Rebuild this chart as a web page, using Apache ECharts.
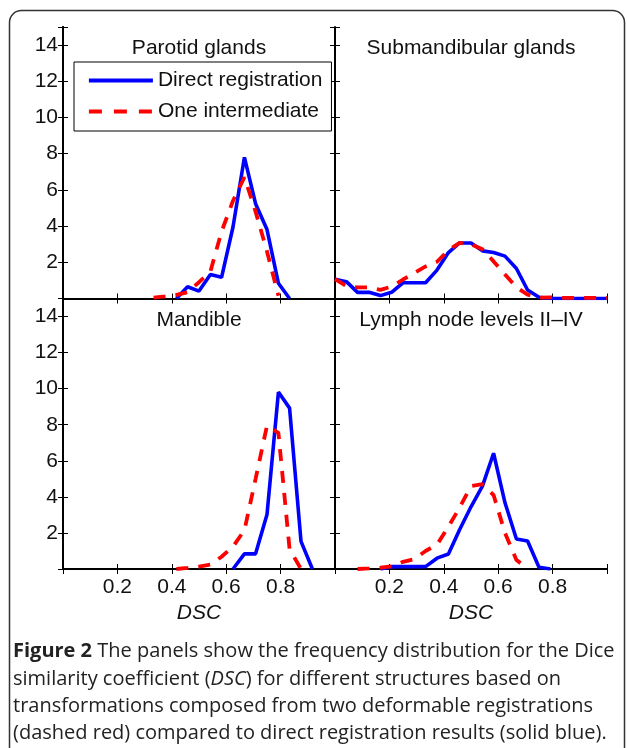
<!DOCTYPE html>
<html><head><meta charset="utf-8">
<script src="https://cdn.jsdelivr.net/npm/echarts@6/dist/echarts.min.js"></script>
<style>html,body{margin:0;padding:0;background:#fff}#c{width:627px;height:748px}</style>
</head><body><div id="c"></div>
<script>
// DSC bin centres (x values)
const dsc = [0.000, 0.042, 0.083, 0.125, 0.167, 0.208, 0.250, 0.292, 0.333, 0.375, 0.417, 0.458, 0.500,
             0.542, 0.583, 0.625, 0.667, 0.708, 0.750, 0.792, 0.833, 0.875, 0.917, 0.958, 1.000];
const panelTitles = ['Parotid glands', 'Submandibular glands', 'Mandible', 'Lymph node levels II\u2013IV'];
const seriesNames = ['Direct registration', 'One intermediate'];
const xTickLabels = [0.2, 0.4, 0.6, 0.8];
const yTickLabels = [2, 4, 6, 8, 10, 12, 14];
const n = null;
// frequency (density) values per bin
const parotidDirect = [n,n,n,n,n,n,n,n,n,n, 0, 0.65, 0.41, 1.33, 1.17, 3.95, 7.8, 5.24, 3.81, 0.84, 0, n,n,n,n];
const parotidOne    = [n,n,n,n,n,n,n,n, 0.05, 0.12, 0.2, 0.35, 0.9, 1.5, 3.7, 5.4, 6.7, 4.8, 2.6, 0.15, n, n,n,n,n];
const submandDirect = [1.07, 0.93, 0.34, 0.34, 0.16, 0.34, 0.87, 0.87, 0.87, 1.57, 2.54, 3.07, 3.07, 2.63, 2.54, 2.34, 1.66, 0.47, 0.07, 0, 0, 0, 0, 0, 0];
const submandOne    = [1.07, 0.69, 0.61, 0.61, 0.48, 0.66, 1.05, 1.42, 1.77, 2.03, 2.67, 3.07, 3.0, 2.72, 2.05, 1.33, 0.62, 0.21, 0.05, 0.06, 0.04, 0.04, 0.04, 0.04, 0.04];
const mandibleDirect = [n,n,n,n,n,n,n,n,n,n,n,n,n,n,n, 0, 0.84, 0.84, 3.02, 9.81, 8.92, 1.53, 0, n,n];
const mandibleOne    = [n,n,n,n,n,n,n,n,n,n, 0, 0.06, 0.13, 0.24, 0.68, 1.25, 2.15, 5.0, 7.95, 7.55, 1.1, 0, n,n,n];
const lymphDirect = [n,n,n,n, 0, 0.13, 0.13, 0.13, 0.13, 0.6, 0.83, 2.18, 3.45, 4.6, 6.42, 3.67, 1.66, 1.55, 0.1, 0, n,n,n,n,n];
const lymphOne    = [n,n, 0, 0.03, 0.07, 0.15, 0.4, 0.55, 1.0, 1.35, 2.35, 3.4, 4.6, 4.7, 4.1, 2.0, 0.5, 0.03, n, n,n,n,n,n,n];
const panelData = [[parotidDirect, parotidOne], [submandDirect, submandOne], [mandibleDirect, mandibleOne], [lymphDirect, lymphOne]];
const captionLines = [
  '{b|Figure 2} The panels show the frequency distribution for the Dice',
  'similarity coefficient ({i|DSC}) for different structures based on',
  'transformations composed from two deformable registrations',
  '(dashed red) compared to direct registration results (solid blue).'
];

const FONT = 'Liberation Sans';
const FS = 21;
const CAPFONT = 'Open Sans';
const CAPFS = 20;
const gridLeft = [63, 335], gridTop = [27, 298.5], gridW = 272, gridH = [271.5, 270.5];
const styles = [
  {color: '#0000ff', width: 3.6, type: 'solid'},
  {color: '#ff0000', width: 3.8, type: [12, 10]}
];

const grid = [], xAxis = [], yAxis = [], series = [], titles = [];
const lineCol = '#000';
for (let i = 0; i < 4; i++) {
  const col = i % 2, row = Math.floor(i / 2);
  grid.push({left: gridLeft[col], top: gridTop[row], width: gridW, height: gridH[row]});
  const xl = (v) => (xTickLabels.some(t => Math.abs(t - v) < 1e-6) ? v.toFixed(1) : '');
  const yl = (v) => (yTickLabels.indexOf(Math.round(v)) >= 0 && Math.abs(v - Math.round(v)) < 1e-6 ? String(Math.round(v)) : '');
  const axisLine = (show) => ({show: show, lineStyle: {color: lineCol, width: 2}});
  const tick = {show: true, inside: true, length: 5, lineStyle: {color: '#000', width: 1}};
  xAxis.push({gridIndex: i, type: 'value', position: 'bottom', min: 0, max: 1, interval: 0.2,
    axisLine: axisLine(true), axisTick: tick, splitLine: {show: false},
    axisLabel: {show: row === 1, formatter: xl, fontSize: FS, fontFamily: FONT, color: '#111', margin: 8},
    name: row === 1 ? 'DSC' : '', nameLocation: 'middle', nameGap: 34,
    nameTextStyle: {fontSize: FS, fontFamily: FONT, fontStyle: 'italic', color: '#111'}});
  xAxis.push({gridIndex: i, type: 'value', position: 'top', min: 0, max: 1, interval: 0.2,
    axisLine: axisLine(true), axisTick: tick, splitLine: {show: false}, axisLabel: {show: false}});
  yAxis.push({gridIndex: i, type: 'value', position: 'left', min: 0, max: 15, interval: 2,
    axisLine: axisLine(true), axisTick: tick, splitLine: {show: false},
    axisLabel: {show: col === 0, formatter: yl, fontSize: FS, fontFamily: FONT, color: '#111', margin: 5}});
  yAxis.push({gridIndex: i, type: 'value', position: 'right', min: 0, max: 15, interval: 2,
    axisLine: axisLine(col === 0), axisTick: tick, splitLine: {show: false}, axisLabel: {show: false}});
  for (let s = 0; s < 2; s++) {
    const vals = panelData[i][s];
    const data = [];
    dsc.forEach((x, k) => { if (vals[k] !== null) data.push([x, vals[k]]); });
    series.push({name: seriesNames[s], type: 'line', xAxisIndex: 2 * i, yAxisIndex: 2 * i,
      data: data, symbol: 'none', showSymbol: false, silent: true, animation: false,
      lineStyle: styles[s], itemStyle: {color: styles[s].color}, z: 2 + s});
  }
  const titleCenterX = gridLeft[col] + gridW / 2;
  titles.push({text: panelTitles[i], left: titleCenterX, top: row === 0 ? 37.5 : 310, textAlign: 'center', padding: 0,
    textStyle: {fontSize: FS, fontFamily: FONT, fontWeight: 'normal', color: '#111'}});
}
titles.push({text: captionLines.join('\n'), left: 13, top: 638, padding: 0,
  textStyle: {fontSize: CAPFS, fontFamily: CAPFONT, fontWeight: 'normal', color: '#222', lineHeight: 27.3,
    rich: {b: {fontSize: CAPFS, fontFamily: CAPFONT, fontWeight: 'bold', color: '#222', lineHeight: 27.3},
           i: {fontSize: CAPFS, fontFamily: CAPFONT, fontStyle: 'italic', color: '#222', lineHeight: 27.3}}}});

const chart = echarts.init(document.getElementById('c'), null, {renderer: 'canvas'});
chart.setOption({
  backgroundColor: '#fff',
  animation: false,
  title: titles,
  grid: grid, xAxis: xAxis, yAxis: yAxis, series: series,
  legend: {
    data: [
      {name: seriesNames[0], lineStyle: {width: 3.8, type: 'solid', color: styles[0].color}},
      {name: seriesNames[1], lineStyle: {width: 3.8, type: [13, 12], color: styles[1].color}}
    ],
    orient: 'vertical', left: 74, top: 62, itemWidth: 64, itemHeight: 20, itemGap: 10,
    padding: [8, 9, 9, 13], borderColor: '#000', borderWidth: 1, backgroundColor: '#fff', selectedMode: false,
    itemStyle: {opacity: 0, borderWidth: 0},
    textStyle: {fontSize: FS, fontFamily: FONT, color: '#111'}, z: 10},
  graphic: [{type: 'rect', shape: {x: 9.5, y: 10.5, width: 615, height: 780, r: 12}, silent: true,
    style: {fill: 'none', stroke: '#333', lineWidth: 1.5}, z: -1}]
});
</script></body></html>
